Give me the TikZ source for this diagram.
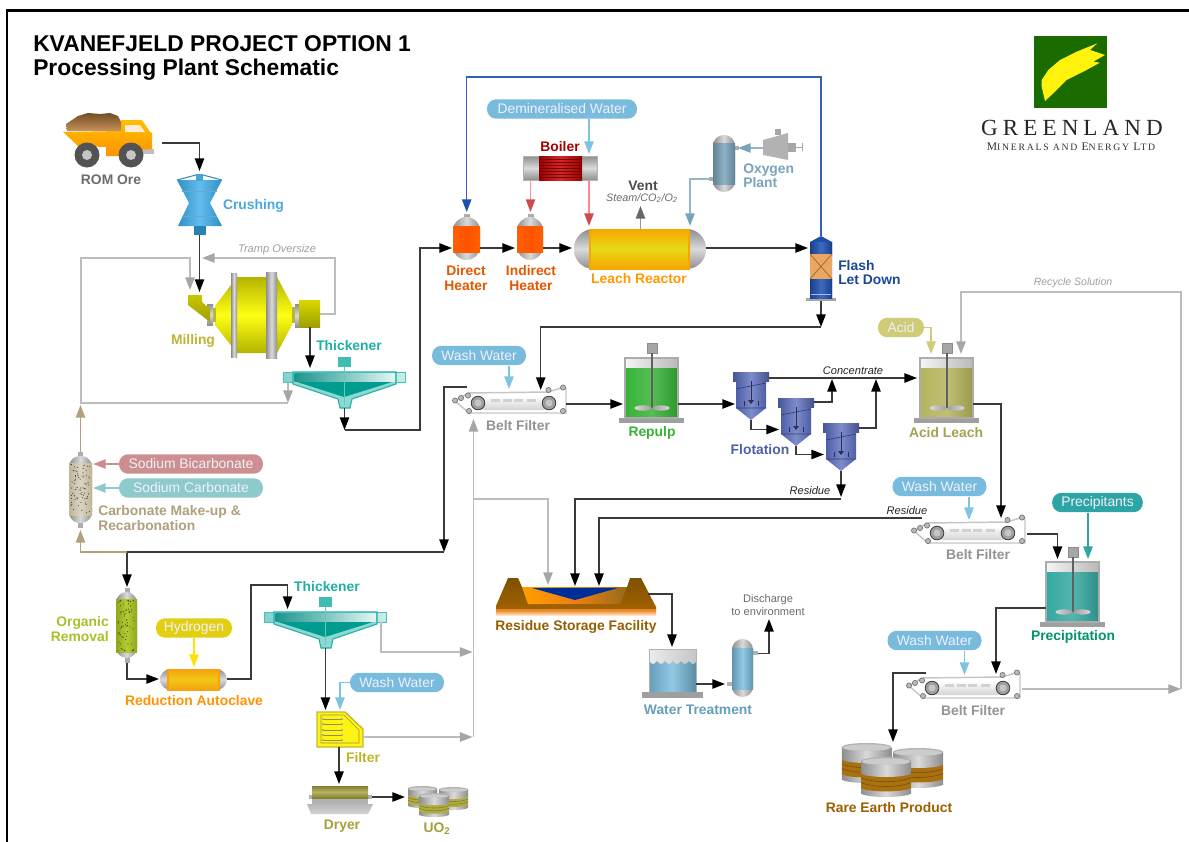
\documentclass[tikz,border=0pt]{standalone}
\usepackage{fontspec}
\setmainfont{Liberation Sans}
\newfontfamily\logofont[LetterSpace=22]{Liberation Serif}
\newfontfamily\logosub[LetterSpace=18]{Liberation Serif}
\usetikzlibrary{arrows.meta}
\definecolor{gd}{HTML}{8E8E8E}\definecolor{gl}{HTML}{DADADA}
\definecolor{gline}{HTML}{BDBDBD}\definecolor{gtip}{HTML}{A6A6A6}
\definecolor{dline}{HTML}{3A3A3A}
\definecolor{waterP}{HTML}{78BBDC}\definecolor{waterA}{HTML}{7FC3E2}
\definecolor{teal1}{HTML}{1FB0A5}\definecolor{teal2}{HTML}{009C8F}
\definecolor{blueF}{HTML}{1D4FB0}\definecolor{oxy}{HTML}{7AA3BA}
\definecolor{flotD}{HTML}{4F5FA8}\definecolor{flotL}{HTML}{7E8CCB}
\definecolor{tan1}{HTML}{B0A07C}\definecolor{rsfB}{HTML}{8A5A00}
\definecolor{crD}{HTML}{2F8FC4}\definecolor{crM}{HTML}{63BDEE}\definecolor{crL}{HTML}{4AA8DC}
\definecolor{crS}{HTML}{46A5D7}\definecolor{crB}{HTML}{2882B4}\definecolor{logoG}{HTML}{1A6B00}
\definecolor{bicC}{HTML}{CC8E8E}\definecolor{carC}{HTML}{8FCACA}\definecolor{orgL}{HTML}{A8C02A}
\definecolor{hydC}{HTML}{E3CF12}\definecolor{orgD}{HTML}{8FA81A}\definecolor{orgM}{HTML}{B5CC30}
\definecolor{repC}{HTML}{36B336}\definecolor{aclC}{HTML}{B5B45C}\definecolor{preC}{HTML}{35A8A0}
\definecolor{filC}{HTML}{BDB52A}\definecolor{dryC}{HTML}{A3A03A}\definecolor{uoB}{HTML}{B0AD40}
\definecolor{reB}{HTML}{A8700F}\definecolor{leY}{HTML}{E6DA17}\definecolor{leO}{HTML}{F7A600}
\definecolor{acY}{HTML}{F0C814}\definecolor{acO}{HTML}{F7A010}
\tikzset{
 x=0.75pt,y=-0.75pt,
 lbl/.style={font=\bfseries\fontsize{10.4}{10.9}\selectfont,align=center,inner sep=0pt},
 lbll/.style={lbl,align=left,anchor=west},
 ital/.style={font=\itshape\fontsize{8.3}{9}\selectfont,inner sep=0pt},
 pillbox/.style={font=\fontsize{10.4}{11}\selectfont,text=white!94!blue,inner sep=0pt,rounded corners=7pt,minimum height=14.6pt},
 flow/.style 2 args={draw=#1,line width=1.1pt,-{Triangle[length=9.5pt,width=7pt,color=#2]}},
 blk/.style={flow={dline}{black}},
 gry/.style={flow={gline}{gtip}},
 grayv/.style={left color=gd,right color=gd,middle color=gl},
 grayh/.style={top color=gd,bottom color=gd,middle color=gl},
 plate/.style={fill=gray!75!white},
 rollers/.style={fill=gray!55!white,draw=gray!90!black,line width=.5pt},
}
\newcommand{\vvessel}[9]{%
 \shade[grayv,rounded corners=#7pt] (#1,#2) rectangle (#3,#4);
 \shade[left color=#8,right color=#8,middle color=#9] (#1,#5) rectangle (#3,#6);}
\newcommand{\hvessel}[9]{%
 \shade[grayh,rounded corners=#7pt] (#1,#2) rectangle (#3,#4);
 \shade[top color=#8,bottom color=#8,middle color=#9] (#5,#2) rectangle (#6,#4);
 \fill[#8] (#5,#2) rectangle ++(2,#4-#2); \fill[#8] (#6,#2) rectangle ++(-2,#4-#2);}
\newcommand{\mixtank}[3]{% left x, top y, colour
 \fill[plate] (#1-6,#2+60) rectangle (#1+59,#2+65);
 \shade[left color=gray!8,right color=gray!55] (#1,#2) rectangle (#1+53,#2+10);
 \shade[left color=#3,right color=#3!85!black,middle color=#3!85!white] (#1,#2+10) rectangle (#1+53,#2+60);
 \draw[gray!65,line width=.8pt] (#1,#2) rectangle (#1+53,#2+60);
 \fill[gray!70,draw=gray!90,line width=.4pt] (#1+22,#2-15) rectangle (#1+32,#2-5);
 \draw[gray!75!black,line width=.8pt] (#1+27,#2-5) -- (#1+27,#2+50);
 \shade[left color=gray!30,right color=gray!75] (#1+18,#2+50) ellipse [x radius=8.5,y radius=2.6];
 \shade[left color=gray!75,right color=gray!30] (#1+36,#2+50) ellipse [x radius=8.5,y radius=2.6];}
\newcommand{\beltf}[2]{\begin{scope}[shift={(#1,#2)}]
 \draw[gray!45,line width=1.1pt,fill=white] (468,393) -- (548,392) -- (563,387.5) -- (566,389) -- (566,413) -- (469,413) -- (455,401) -- cycle;
 \shade[top color=white,bottom color=gray!35,rounded corners=5pt] (478,396) rectangle (549,410);
 \foreach \q in {495,507,518,531}{\fill[gray!35] (\q-4.5,399) rectangle (\q+4.5,402);}
 \foreach \q in {478,549}{\fill[gray!75,draw=gray!45!black,line width=.6pt] (\q,403) circle[radius=6.8];
   \fill[gray!45] (\q,403) circle[radius=3.5];}
 \foreach \a/\b in {455/400.5,461/398,468/395.5,469/411,548.5/390,563/387.5,563/411}{\fill[rollers] (\a,\b) circle[radius=2.6];}
 \end{scope}}
\newcommand{\flotcell}[2]{\begin{scope}[shift={(#1,#2)}]
 \shade[left color=flotD,right color=flotD,middle color=flotL] (736,378) -- (766,378) -- (766,408) -- (751,420) -- (736,408) -- cycle;
 \shade[left color=flotD!90!black,right color=flotD!85!black,middle color=flotL] (733,372) rectangle (769,381);
 \draw[flotD!65!black,line width=.5pt] (736,389) -- (766,383) (736,408) -- (766,408);
 \draw[flotD!50!black,line width=.7pt] (751,381) -- (751,402) (744,401) -- (744,406) (758,401) -- (758,406);
 \fill[flotD!50!black] (748,400) -- (754,400) -- (751,404) -- cycle;
 \end{scope}}
\newcommand{\thick}[2]{\begin{scope}[shift={(#1,#2)}]
 \shade[left color=teal1!55!white,right color=teal1!25!white,draw=teal1!80,line width=.5pt] (283,372) rectangle (405,382);
 \fill[teal1!50!white,draw=teal1,line width=.8pt] (293,372) -- (396,372) -- (396,384) -- (352,399) -- (350,408) -- (340,408) -- (338,399) -- (293,384) -- cycle;
 \fill[teal2] (297,382) -- (392,382) -- (344,397) -- cycle;
 \shade[left color=teal1!85!black,right color=teal1!12!white] (294.5,373) rectangle (394.5,381.5);
 \fill[teal1!85!white] (338,357) rectangle (351,367);
 \draw[teal1!70!white,line width=.7pt] (344.5,367) -- (344.5,405);
 \end{scope}}
\newcommand{\drum}[6]{% cx top bottom width band e
 \pgfmathsetmacro{\rx}{#4/2}\pgfmathsetmacro{\lx}{#1-\rx}\pgfmathsetmacro{\hx}{#1+\rx}
 \pgfmathsetmacro{\bt}{#2+(#3-#2)*0.30+#6}\pgfmathsetmacro{\bb}{#2+(#3-#2)*0.76}
 \shade[grayv] (#1,#3-#6) ellipse [x radius=\rx,y radius=#6];
 \shade[grayv] (\lx,#2+#6) rectangle (\hx,#3-#6);
 \fill[#5] (#1,\bb) ellipse [x radius=\rx,y radius=#6];
 \fill[#5] (\lx,\bt) rectangle (\hx,\bb);
 \shade[grayv] (#1,\bt) ellipse [x radius=\rx,y radius=#6];
 \foreach \f in {0.33,0.66}{\pgfmathsetmacro{\yy}{\bt+(\bb-\bt)*\f}
   \draw[#5!70!black,line width=.4pt] (\lx,\yy) .. controls (#1-\rx/2,\yy+1.33*#6) and (#1+\rx/2,\yy+1.33*#6) .. (\hx,\yy);}
 \fill[gray!60] (#1,#2+#6) ellipse [x radius=\rx,y radius=#6];
 \fill[gray!40] (#1,#2+#6+.6) ellipse [x radius=\rx-1,y radius=#6-.8];}
\begin{document}
\begin{tikzpicture}
\useasboundingbox (0,0) rectangle (1189,842);
\fill[white] (0,0) rectangle (1189,842);
\draw[black,line width=1.6pt] (7,842) -- (7,10.5) -- (1189,10.5);
% ---- titles
\node[anchor=base west,inner sep=0pt,font=\bfseries\fontsize{17.12}{18}\selectfont] (title1) at (33,52) {KVANEFJELD PROJECT OPTION 1};
\node[anchor=base west,inner sep=0pt,font=\bfseries\fontsize{17.12}{18}\selectfont] (title2) at (33,75) {Processing Plant Schematic};
% ---- logo
\fill[logoG] (1034,36) rectangle (1107,108);
\fill[yellow!95!white] (1041.7,80) -- (1048.3,70) -- (1060,60) -- (1076.7,51.7) -- (1097.3,43.3) -- (1090,50) -- (1105,55) -- (1093.3,61.7) -- (1100,62.7) -- (1083.3,71.7) -- (1066.7,80) -- (1055,91.7) -- (1045,101) -- (1041.7,86.7) -- cycle;
\node[inner sep=0pt,text=black!85] (logoA) at (1072,128) {\logofont\fontsize{17.3}{18}\selectfont GREENLAND};
\newcommand{\bigc}[1]{{\fontsize{8.7}{9}\selectfont #1}}
\node[inner sep=0pt,text=black!80] (logoB) at (1071,147) {\logosub\fontsize{7.3}{9}\selectfont \bigc{M}INERALS AND \bigc{E}NERGY \bigc{L}TD};
% ---- truck
\fill[gray!50] (143,149) rectangle (154,154);
\shade[top color=orange!50!yellow,bottom color=orange!85!yellow] (63,132) -- (121,131) -- (121,120) -- (142,120) -- (150,132) -- (152,133) -- (152,149) -- (140,150) -- (140,156) -- (106,156) -- (106,147) -- (78,146) -- cycle;
\fill[white!85!orange] (125,125) -- (140,125) -- (145,132) -- (125,132) -- cycle;
\shade[top color=brown!60!black,bottom color=brown!85!white] (67,131) -- (66,124) -- (72,120) -- (78,116) -- (88,113) -- (100,114) -- (110,113) -- (118,116) -- (121,122) -- (121,131) -- cycle;
\foreach \a/\b in {87/155,131/155}{\fill[gray!65!black] (\a,\b) circle[radius=12.5]; \fill[gray!45] (\a,\b) circle[radius=5];}
\node[lbl,text=gray!85!black] (lrom) at (111,180) {ROM Ore};
% ---- crusher
\shade[left color=crD,right color=crD,middle color=crM] (177,180) -- (222,180) -- (210,203) -- (222,226) -- (178,226) -- (189,203) -- cycle;
\draw[crB!70,line width=.4pt] (182,191) -- (217,191) (182,216) -- (217,216);
\draw[crD,line width=.8pt] (177,180) -- (196,175) -- (203,175) -- (222,180);
\fill[crS] (196,174) rectangle (203,181);
\fill[crB] (193.5,226) rectangle (206,235);
\node[lbl,text=crL] (lcrush) at (253.5,206) {Crushing};
% ---- mill
\shade[top color=yellow!70!black,bottom color=yellow!70!black,middle color=yellow!92!white] (215,306) -- (237,277) -- (277,277) -- (292,305) -- (292,325) -- (277,353) -- (237,353) -- (215,325) -- cycle;
\shade[grayv] (231,273) rectangle (237,357);
\shade[grayv] (266,272) rectangle (277,358);
\fill[yellow!70!black] (213,308) rectangle (216,322);
\shade[grayh] (207,304) rectangle (213,325);
\fill[yellow!70!black] (292,307) rectangle (296,323);
\shade[grayh] (295,304) rectangle (299,327);
\shade[top color=yellow!78!black,bottom color=yellow!62!black] (188,295) -- (202,295) -- (202,302) -- (210,309) -- (210,322) -- (188,305) -- cycle;
\shade[top color=yellow!85!black,bottom color=yellow!62!black] (299,300) rectangle (320,327);
\node[lbl,text=yellow!70!black] (lmill) at (193,341) {Milling};
\node[ital,text=gray!75] (ltramp) at (277,250) {Tramp Oversize};
% ---- thickener 1
\thick{0}{0}
\node[lbl,text=teal1] (lthk1) at (349,346) {Thickener};
% ---- heaters
\fill[gray!65] (464,214) rectangle (470,218); \fill[gray!65] (527.5,214) rectangle (533.5,218);
\vvessel{453}{217}{480}{260}{226}{252}{10}{orange!75!red}{orange!65!red}
\vvessel{517}{217}{543}{260}{226}{252}{10}{orange!75!red}{orange!65!red}
\node[lbl,text=orange!75!red!90!black] (ldh) at (466,278) {Direct\\Heater};
\node[lbl,text=orange!75!red!90!black] (lih) at (531,278) {Indirect\\Heater};
\hvessel{574}{229}{706}{269}{589}{690}{14.5}{leO}{leY}
\node[lbl,text=orange!80!yellow] (lleach) at (639,279) {Leach Reactor};
% ---- boiler
\shade[grayh] (523,156) rectangle (597,180);
\draw[gray!60,line width=.5pt] (523,156) rectangle (597,180);
\shade[left color=red!60!black,right color=red!60!black,middle color=red!70!gray] (539,156) rectangle (582,180);
\foreach \q in {159,162,...,178}{\draw[red!45!black,line width=.25pt] (539,\q) -- (582,\q);}
\node[lbl,text=red!65!black] (lboil) at (560,147) {Boiler};
\node[pillbox,fill=waterP,minimum width=112.5pt] (pdw) at (562,109) {Demineralised Water};
\node[lbl,text=gray!60!black] (lvent) at (643,186) {Vent};
\node[ital,text=gray!85!black,font=\itshape\fontsize{8.1}{9}\selectfont] (lsteam) at (642,198) {Steam/CO\textsubscript{2}/O\textsubscript{2}};
% ---- oxygen plant
\fill[gray!65] (709,177) rectangle (713,181); \fill[gray!65] (735,146) rectangle (739,150);
\vvessel{713}{135}{735}{192}{143}{184}{8}{oxy!80!black}{oxy!85!white}
\fill[gray!60] (763,140) -- (788,133) -- (788,160) -- (763,155) -- cycle;
\fill[gray!70] (775,129) rectangle (781,135);
\fill[gray!70] (788,143) rectangle (796,152);
\draw[gray!70,line width=.7pt] (796,147) -- (802,147) (802,143) -- (802,151);
\node[lbll,text=oxy] (loxy) at (743,175.5) {Oxygen\\Plant};
% ---- flash
\fill[gray!70] (806,298) rectangle (836,301);
\fill[blueF] (810,242) -- (821,236) -- (832,242) -- (832,298) -- (810,298) -- cycle;
\shade[left color=blueF!80!black,right color=blueF!80!black,middle color=blueF!85!white] (810,242) rectangle (832,254);
\shade[left color=blueF!80!black,right color=blueF!80!black,middle color=blueF!85!white] (810,279) rectangle (832,298);
\fill[brown!45!orange!70!white] (810,254) rectangle (832,279);
\draw[brown!70!black,line width=.4pt] (810,254) -- (832,279) (832,254) -- (810,279);
\draw[white!70!blue,line width=.4pt] (811,294) -- (831,294);
\node[lbll,text=blueF!90!black] (lflash) at (838,272.5) {Flash\\Let Down};
% ---- belt filters
\beltf{0}{0} \beltf{459}{130} \beltf{454}{285}
\node[lbl,text=gray!85] (lbf1) at (518,426) {Belt Filter};
\node[lbl,text=gray!85] (lbf2) at (978,555) {Belt Filter};
\node[lbl,text=gray!85] (lbf3) at (973,711) {Belt Filter};
\node[pillbox,fill=waterP,minimum width=70.5pt] (pw1) at (479,355.5) {Wash Water};
\node[pillbox,fill=waterP,minimum width=70.5pt] (pw2) at (939.5,486.5) {Wash Water};
\node[pillbox,fill=waterP,minimum width=70.5pt] (pw3) at (934.5,640.5) {Wash Water};
\node[pillbox,fill=waterP,minimum width=70.5pt] (pw4) at (397,682.5) {Wash Water};
% ---- tanks
\mixtank{625}{358}{repC}
\mixtank{920}{358}{aclC}
\mixtank{1046}{562}{preC}
\node[lbl,text=repC] (lrep) at (652,433) {Repulp};
\node[lbl,text=aclC!90!black] (lacid) at (946,433) {Acid Leach};
\node[lbl,text=teal!85!green] (lprec) at (1073,637) {Precipitation};
\node[pillbox,fill=yellow!50!gray!85!white,minimum width=34.5pt] (pacid) at (901,327.5) {Acid};
\node[pillbox,fill=teal!55!cyan!65!gray,minimum width=68pt] (pprec) at (1097.5,502.5) {Precipitants};
% ---- flotation
\flotcell{0}{0} \flotcell{45}{26} \flotcell{90}{51}
\node[lbl,text=flotD] (lflot) at (760,450) {Flotation};
\node[ital,text=black!85] (lconc) at (853,371) {Concentrate};
\node[ital,text=black!85] (lres1) at (810,491) {Residue};
\node[ital,text=black!85] (lres2) at (907,511) {Residue};
\node[ital,text=gray!75,font=\itshape\fontsize{7.9}{9}\selectfont] (lrec) at (1073,283) {Recycle Solution};
% ---- carbonate column
\fill[gray!65] (78,452) rectangle (83,457); \fill[gray!65] (78,522) rectangle (83,528);
\vvessel{69}{456}{92}{523}{463}{515}{8}{tan1!80!white}{tan1!45!white}
\pgfmathsetseed{11}
\foreach \i in {1,...,70}{\fill[black!80] ({71+rnd*19},{464+rnd*50}) circle[radius=.55];}
\node[pillbox,fill=bicC,minimum width=108pt] (pbic) at (191,464) {Sodium Bicarbonate};
\node[pillbox,fill=carC,minimum width=108pt] (pcar) at (191,488) {Sodium Carbonate};
\node[lbll,text=tan1] (lcarb) at (98,518) {Carbonate Make-up \&\\Recarbonation};
% ---- organic removal
\fill[gray!65] (125,588) rectangle (130,593); \fill[gray!65] (125,657) rectangle (130,663);
\vvessel{116}{592}{137}{658}{599}{652}{8}{orgD}{orgM}
\foreach \i in {1,...,70}{\fill[black!75] ({118+rnd*17},{600+rnd*51}) circle[radius=.55];}
\node[lbl,align=right,anchor=east,text=orgL] (lorg) at (109,629) {Organic\\Removal};
% ---- reduction
\hvessel{160}{669}{227}{690}{167}{220}{8}{acO}{acY}
\node[lbl,text=orange!85!yellow] (lred) at (194,701) {Reduction Autoclave};
\node[pillbox,fill=hydC,minimum width=57pt] (phyd) at (194,628) {Hydrogen};
% ---- thickener 2
\thick{-19}{240}
\node[lbl,text=teal1] (lthk2) at (327,587) {Thickener};
% ---- filter
\fill[yellow!93!white,draw=yellow!72!black,line width=1pt] (317,712) -- (345,712) -- (363,729) -- (363,747) -- (317,747) -- cycle;
\draw[yellow!55!black,line width=.4pt] (321,715) -- (344,715) -- (359,730) -- (359,743) -- (321,743) -- cycle;
\foreach \q in {719,724,730,735,740}{\draw[gray!70!olive,line width=.7pt] (323,\q) -- (342,\q); \fill[gray!70] (323,\q) circle[radius=1.1] (342,\q) circle[radius=1.1];}
\node[lbl,text=filC] (lfil) at (363,758) {Filter};
% ---- dryer
\fill[gray!60] (309,795) rectangle (372,799);
\fill[gray!60] (312,798) rectangle (368,806);
\shade[top color=dryC!80!black,bottom color=dryC!80!black,middle color=dryC!80!white] (312,786) rectangle (368,798);
\shade[top color=gray!55,bottom color=gray!35] (307,804) -- (373,804) -- (368,814) -- (311,814) -- cycle;
\node[lbl,text=dryC] (ldry) at (342,826) {Dryer};
\drum{422.5}{786}{808}{29}{uoB}{2.5}
\drum{453.5}{787}{810}{29}{uoB}{2.5}
\drum{434}{793}{817}{30}{uoB}{2.5}
\node[lbl,text=dryC] (luo) at (437,829) {UO\textsubscript{2}};
% ---- RSF
\shade[top color=orange!15!white,bottom color=orange!15!white,middle color=orange!70!brown] (496,604) rectangle (656,615.5);
\shade[top color=rsfB!90!black,bottom color=rsfB!80!orange] (496,609) -- (496,606) -- (508,578) -- (518,578) -- (522,587) -- (627,587) -- (630,578) -- (641,578) -- (656,607) -- (656,609) -- cycle;
\shade[left color=orange!75!yellow,right color=rsfB!90!white,middle color=orange!70!brown] (522,587) -- (627,587) -- (620,604) -- (528,604) -- cycle;
\fill[blue!70!cyan!60!black] (532,588) -- (618,588) -- (575,600) -- cycle;
\node[lbl,text=rsfB!90!orange] (lrsf) at (576,627) {Residue Storage Facility};
% ---- water treatment
\fill[plate] (642,692) rectangle (703,698);
\shade[left color=gray!15,right color=gray!45] (649,649) rectangle (696,666);
\shade[left color=waterP!85!black,right color=waterP!75!black,middle color=waterP!80!white] (649,692) -- (649,661) .. controls (652,665) and (654,665) .. (657,661) .. controls (660,665) and (662,665) .. (665,661) .. controls (668,665) and (670,665) .. (673,661) .. controls (676,665) and (678,665) .. (681,661) .. controls (684,665) and (686,665) .. (689,661) .. controls (692,665) and (694,665) .. (696,662) -- (696,692) -- cycle;
\draw[gray!60,line width=.7pt] (649,692) -- (649,649) -- (696,649) -- (696,692);
\fill[gray!60] (727,682) rectangle (733,686); \fill[gray!60] (752,651) rectangle (758,655);
\vvessel{732}{639}{753}{697}{648}{689}{7.8}{waterP!80!black}{waterP!80!white}
\node[lbl,text=waterP!85!black] (lwt) at (698,710) {Water Treatment};
\node[font=\fontsize{8.3}{9.2}\selectfont,text=gray!85!black,align=center,inner sep=0pt] (ldis) at (768,605) {Discharge\\to environment};
% ---- rare earth product
\drum{866.5}{743}{783}{49.5}{reB}{4}
\drum{918}{748}{788}{50}{reB}{4}
\drum{886}{757}{797}{50}{reB}{4}
\node[lbl,text=rsfB!85!orange] (lreo) at (889,808) {Rare Earth Product};
% ---- connector end points
\coordinate (truckOut) at (162,143); \coordinate (crushIn) at (199.5,171);
\coordinate (crushOut) at (199.5,235); \coordinate (millInB) at (199.5,292);
\coordinate (millInG) at (190,290); \coordinate (thkOver) at (288,383);
\coordinate (loopA) at (288,403); \coordinate (loopB) at (81,403); \coordinate (loopC) at (81,258);
\coordinate (millOut) at (320,314); \coordinate (trampA) at (335,314); \coordinate (trampIn) at (202,258);
\coordinate (millDown) at (310,327); \coordinate (thkIn) at (310,368);
\coordinate (thkOut) at (344.5,408); \coordinate (thkBot) at (344.5,430); \coordinate (riseA) at (420,430);
\coordinate (dhIn) at (452,248); \coordinate (dhOut) at (480,248); \coordinate (ihIn) at (515,248);
\coordinate (ihOut) at (543,248); \coordinate (lrIn) at (572,248); \coordinate (lrOut) at (706,248); \coordinate (flIn) at (808,248);
\coordinate (flTop) at (821,236); \coordinate (flTopY) at (821,77); \coordinate (dhTop) at (466.7,212);
\coordinate (boilIn) at (589,154); \coordinate (boilL) at (530.5,180); \coordinate (ihTop) at (530.5,212);
\coordinate (boilR) at (589,180); \coordinate (lrTopL) at (589,226);
\coordinate (lrTopV) at (640.5,229); \coordinate (ventTip) at (640.5,206);
\coordinate (oxNoz) at (709,179); \coordinate (lrTopO) at (690,226);
\coordinate (compOut) at (763,148); \coordinate (oxIn) at (738,148);
\coordinate (flBot) at (821,301); \coordinate (flCross) at (821,327); \coordinate (bf1In) at (540.7,390);
\coordinate (bf1W) at (509,389); \coordinate (bf1Out) at (566,404); \coordinate (repIn) at (623,404);
\coordinate (repOut) at (678,404); \coordinate (ftIn) at (735,404);
\coordinate (f1Top) at (769,378); \coordinate (alIn) at (917,378);
\coordinate (f2Top) at (814,402); \coordinate (f2Tip) at (832,379);
\coordinate (f3Top) at (859,428); \coordinate (f3Tip) at (876,379);
\coordinate (f1Bot) at (751,420); \coordinate (f2In) at (779,429.5);
\coordinate (f2Bot) at (796,446); \coordinate (f3In) at (824,454.5);
\coordinate (f3Bot) at (841,471); \coordinate (f3Tip2) at (841,497); \coordinate (res1Y) at (841,499);
\coordinate (rsfIn2) at (575,586); \coordinate (bf2Res) at (922,518); \coordinate (rsfIn3) at (599,586);
\coordinate (rsfIn1) at (548,585); \coordinate (grayJ) at (473.5,499);
\coordinate (bf1G) at (473.5,419); \coordinate (grayBot) at (473.5,737);
\coordinate (bf1Res) at (467,387); \coordinate (resX) at (444,387); \coordinate (resTip) at (444,552);
\coordinate (orgIn) at (127,587); \coordinate (tee) at (127,552); \coordinate (tanB) at (80.5,552); \coordinate (carbIn) at (80.5,530);
\coordinate (carbOut) at (80.5,452); \coordinate (carbTip) at (80.5,405);
\coordinate (carbB) at (93,464); \coordinate (carbC) at (93,488);
\coordinate (orgOut) at (127,663); \coordinate (acIn) at (159,679); \coordinate (acH) at (194,667);
\coordinate (acOut) at (227,679); \coordinate (acRise) at (251,679); \coordinate (thk2In) at (287.6,609); \coordinate (acTop) at (251,585);
\coordinate (thk2Over) at (381,622); \coordinate (gMid) at (472.6,652);
\coordinate (thk2Out) at (325.5,648); \coordinate (filIn) at (325.5,710); \coordinate (filW) at (340,710);
\coordinate (filOut) at (363,737); \coordinate (gLow) at (472.6,737);
\coordinate (filBot) at (339,747); \coordinate (dryIn) at (339,784); \coordinate (dryOut) at (372,797); \coordinate (uoIn) at (405,797);
\coordinate (alOut) at (973,404); \coordinate (bf2In) at (1001,518);
\coordinate (acidIn) at (931,354); \coordinate (recIn) at (961,354); \coordinate (recTop) at (1181,292); \coordinate (recBot) at (1181,689);
\coordinate (bf3Out) at (1022,689); \coordinate (bf2W) at (969,520);
\coordinate (bf2Out) at (1027,534); \coordinate (prIn) at (1057.5,559); \coordinate (prP) at (1088,559);
\coordinate (prOut) at (1046,608); \coordinate (bf3In) at (996,674); \coordinate (bf3W) at (964.5,675);
\coordinate (bf3Res) at (926,673); \coordinate (reoIn) at (893,742);
\coordinate (rsfOut) at (648,594); \coordinate (wtIn) at (672,647);
\coordinate (wtOut) at (696,684); \coordinate (wvIn) at (725,684);
\coordinate (wvOut) at (758,653.5); \coordinate (disTip) at (769,619);
% ---- grey recycle connectors
\draw[gry] (thkOver) -- (loopA);
\draw[gry] (loopA) -- (loopB) -- (loopC) -| (millInG);
\draw[gry] (millOut) -- (trampA) |- (trampIn);
\draw[gry] (grayBot) -- (bf1G);
\draw[gry] (grayJ) -| (rsfIn1);
\draw[gry] (thk2Over) |- (gMid);
\draw[gry] (filOut) -- (gLow);
\draw[gry] (bf3Out) -- (recBot);
\draw[gry] (recBot) -- (recTop) -| (recIn);
% ---- black process connectors
\draw[blk] (truckOut) -| (crushIn);
\draw[blk] (crushOut) -- (millInB);
\draw[blk] (millDown) -- (thkIn);
\draw[blk] (thkOut) -- (thkBot);
\draw[blk] (thkBot) -- (riseA) |- (dhIn);
\draw[blk] (dhOut) -- (ihIn);
\draw[blk] (ihOut) -- (lrIn);
\draw[blk] (lrOut) -- (flIn);
\draw[blk] (flBot) -- (flCross);
\draw[blk] (flCross) -| (bf1In);
\draw[blk] (bf1Out) -- (repIn);
\draw[blk] (repOut) -- (ftIn);
\draw[blk] (f1Top) -- (alIn);
\draw[blk] (f2Top) -| (f2Tip);
\draw[blk] (f3Top) -| (f3Tip);
\draw[blk] (f1Bot) |- (f2In);
\draw[blk] (f2Bot) |- (f3In);
\draw[blk] (f3Bot) -- (f3Tip2);
\draw[blk] (res1Y) -| (rsfIn2);
\draw[blk] (bf2Res) -| (rsfIn3);
\draw[blk] (bf1Res) -- (resX) -- (resTip);
\draw[blk] (resTip) -- (tee) -- (orgIn);
\draw[blk] (orgOut) |- (acIn);
\draw[blk] (acOut) -- (acRise) -- (acTop) -| (thk2In);
\draw[blk] (thk2Out) -- (filIn);
\draw[blk] (filBot) -- (dryIn);
\draw[blk] (dryOut) -- (uoIn);
\draw[blk] (alOut) -| (bf2In);
\draw[blk] (bf2Out) -| (prIn);
\draw[blk] (prOut) -| (bf3In);
\draw[blk] (bf3Res) -| (reoIn);
\draw[blk] (rsfOut) -| (wtIn);
\draw[blk] (wtOut) -- (wvIn);
\draw[blk] (wvOut) -| (disTip);
% ---- coloured connectors
\draw[flow={blueF!90!white}{blueF}] (flTop) -- (flTopY) -| (dhTop);
\draw[flow={waterA}{waterA}] (boilIn |- pdw.south) -- (boilIn);
\draw[flow={red!45!white}{red!55!gray!90!white}] (boilL) -- (ihTop);
\draw[flow={red!45!white}{red!55!gray!90!white}] (boilR) -- (lrTopL);
\draw[flow={gray!80}{gray!80!black}] (lrTopV) -- (ventTip);
\draw[flow={oxy!80!white}{oxy}] (oxNoz) -| (lrTopO);
\draw[flow={oxy!80!white}{oxy}] (compOut) -- (oxIn);
\draw[flow={waterA}{waterA}] (bf1W |- pw1.south) -- (bf1W);
\draw[flow={waterA}{waterA}] (bf2W |- pw2.south) -- (bf2W);
\draw[flow={waterA}{waterA}] (bf3W |- pw3.south) -- (bf3W);
\draw[flow={waterA}{waterA}] (pw4.west) -| (filW);
\draw[flow={yellow!50!gray!85!white}{yellow!50!gray!85!white}] (pacid.east) -| (acidIn);
\draw[flow={teal!55!cyan!65!gray}{teal!55!cyan!65!gray}] (prP |- pprec.south) -- (prP);
\draw[flow={bicC}{bicC}] (pbic.west) -- (carbB);
\draw[flow={carC}{carC}] (pcar.west) -- (carbC);
\draw[flow={yellow!85!orange}{yellow!85!orange}] (acH |- phyd.south) -- (acH);
\draw[flow={tan1}{tan1}] (carbOut) -- (carbTip);
\draw[flow={tan1}{tan1}] (tee) -- (tanB) -- (carbIn);
\end{tikzpicture}
\end{document}
